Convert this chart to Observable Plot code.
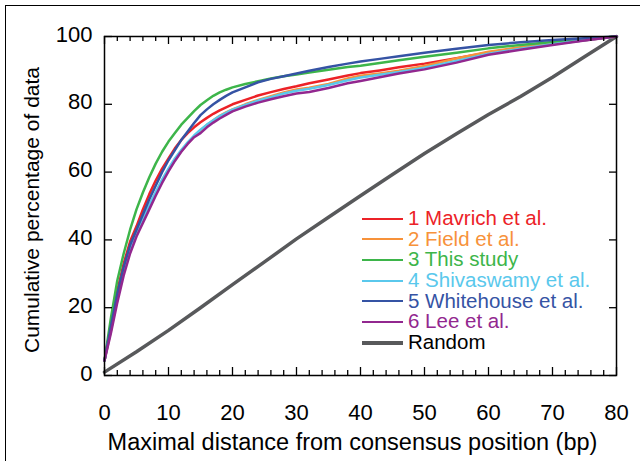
<!DOCTYPE html>
<html>
<head>
<meta charset="utf-8">
<script src="https://cdn.jsdelivr.net/npm/d3@7"></script>
<script src="https://cdn.jsdelivr.net/npm/@observablehq/plot@0.6"></script>
<style>
  html, body { margin: 0; padding: 0; background: #fff; }
  #wrap { position: relative; width: 640px; height: 461px; overflow: hidden; font-family: "Liberation Sans", Arial, sans-serif; }
  #border { position: absolute; left: 5px; top: 5px; width: 700px; height: 500px; border-left: 1px solid #000; border-top: 1px solid #000; pointer-events: none; }
  #legend { position: absolute; left: 362px; top: 208px; font-size: 20.5px; line-height: 20.7px; }
  #legend .row { white-space: nowrap; height: 20.7px; }
  #legend .sw { display: inline-block; width: 41px; vertical-align: middle; margin-right: 5px; position: relative; top: -1px; }
</style>
</head>
<body>
<div id="wrap"><div id="chart"></div><div id="border"></div><div id="legend"></div></div>
<script>
// Distance grid (bp)
const xs = [0,1,2,3,4,5,6,7,8,9,10,11,12,13,14,15,16,17,18,19,20,22,24,26,28,30,32,35,38,40,43,46,50,55,60,65,70,75,80];

const mavrich    = [4.4,15,25,33,39.5,44,49,53.5,57.5,61,64,67,69.5,71.5,73.2,74.7,76,77.2,78.2,79.1,80,81.3,82.6,83.6,84.5,85.3,86.2,87.3,88.5,89.2,90,90.9,92,93.6,95.3,96.6,97.8,98.9,100];
const field      = [4.4,13.2,22.7,30.7,37.2,42.2,46.2,50,53.7,57.5,60.7,63.7,66.2,68.5,70.5,72.3,73.9,75.3,76.6,77.6,78.5,80,81.3,82.4,83.5,84.4,84.9,86,87.6,88.4,89.1,89.9,91.3,93.5,95.5,96.8,98,99,100];
const thisStudy  = [4.4,17,28,36,43,49,54,58.5,62.5,66,69,71.5,74,76,78,79.8,81.2,82.5,83.5,84.3,85,86,86.8,87.6,88.3,88.8,89.4,90.2,91,91.4,92.2,93,94,95.2,96.5,97.5,98.4,99.2,100];
const shivaswamy = [4.4,13.5,23,31,37.5,42.5,46.5,50.3,54,57.8,61,64,66.5,68.8,70.8,72.5,74,75.3,76.5,77.5,78.4,79.8,81.1,82.1,83.2,84,84.6,85.7,87.1,87.9,88.7,89.5,90.8,92.8,94.9,96.4,97.7,98.9,100];
const whitehouse = [4.4,14.5,24,32,38.5,43,47.5,52,56,60,63.5,66.5,69.5,72,74.5,76.8,78.5,80,81.3,82.5,83.5,85,86.5,87.5,88.3,89.1,89.9,91,92,92.6,93.4,94.2,95.2,96.4,97.5,98.3,99,99.5,100];
const lee        = [4.4,12.5,21.5,29.5,36,41,45,49,53,56.8,60.2,63.3,66,68.3,70.3,71.5,73.2,74.6,75.8,76.9,77.9,79.3,80.5,81.5,82.4,83.2,83.6,84.8,86.2,86.9,88,89.1,90.3,92.3,94.6,96.1,97.5,98.8,100];

const randomX = [0,5,10,15,20,25,30,35,40,45,50,55,60,65,70,75,80];
const randomY = [1,7,13.3,20,26.8,33.5,40.3,46.7,53,59.3,65.5,71.3,77,82.3,88,94,100];

const seriesNames  = ["1 Mavrich et al.","2 Field et al.","3 This study","4 Shivaswamy et al.","5 Whitehouse et al.","6 Lee et al.","Random"];
const seriesColors = ["#ec2227","#f7923a","#3db54a","#5ac8ec","#3553a4","#92278f","#58595b"];

const xMajor = [0,10,20,30,40,50,60,70,80];
const xMinor = d3.range(0,81,2).filter(v => v % 10 !== 0);
const yMajor = [0,20,40,60,80,100];
const xLabel = "Maximal distance from consensus position (bp)";
const yLabel = "Cumulative percentage of data";

const studyValues = [mavrich, field, thisStudy, shivaswamy, whitehouse, lee];
const rows = [];
studyValues.forEach((vals, i) => vals.forEach((v, j) => rows.push({x: xs[j], y: v, s: seriesNames[i]})));
randomX.forEach((x, j) => rows.push({x, y: randomY[j], s: "Random"}));

const W = 640, H = 461, mL = 104, mR = 24, mT = 36, mB = 86;
const fw = W - mL - mR, fh = H - mT - mB;

const chart = Plot.plot({
  width: W, height: H,
  marginLeft: mL, marginRight: mR, marginTop: mT, marginBottom: mB,
  style: {fontFamily: '"Liberation Sans", Arial, sans-serif', background: "transparent", color: "#000"},
  x: {domain: [0, 80]},
  y: {domain: [0, 100]},
  color: {domain: seriesNames, range: seriesColors},
  marks: [
    Plot.line(rows.filter(d => d.s === "Random"), {x: "x", y: "y", stroke: "s", strokeWidth: 3.5}),
    ...seriesNames.slice(0, 6).map(name =>
      Plot.line(rows.filter(d => d.s === name), {x: "x", y: "y", stroke: "s", strokeWidth: 2.5})
    ),
    // inward ticks
    Plot.tickX(xMajor, {x: d => d, insetTop: fh - 8, stroke: "#000", strokeWidth: 1.3}),
    Plot.tickX(xMinor, {x: d => d, insetTop: fh - 5, stroke: "#000", strokeWidth: 1.3}),
    Plot.tickX(xMajor, {x: d => d, insetBottom: fh - 8, stroke: "#000", strokeWidth: 1.3}),
    Plot.tickX(xMinor, {x: d => d, insetBottom: fh - 5, stroke: "#000", strokeWidth: 1.3}),
    Plot.tickY(yMajor, {y: d => d, insetRight: fw - 8, stroke: "#000", strokeWidth: 1.3}),
    Plot.tickY(yMajor, {y: d => d, insetLeft: fw - 7, stroke: "#000", strokeWidth: 1.3}),
    Plot.frame({stroke: "#000", strokeWidth: 1.5}),
    Plot.axisX({ticks: xMajor, tickSize: 0, tickPadding: 29, label: null, fontSize: 22}),
    Plot.axisY({ticks: yMajor, tickSize: 0, tickPadding: 12, label: null, fontSize: 22, dy: -2}),
    Plot.text([xLabel], {frameAnchor: "bottom", textAnchor: "middle", lineAnchor: "middle", dy: 67, dx: -8, fontSize: 23.5, fill: "#000"}),
    Plot.text([yLabel], {frameAnchor: "left", textAnchor: "middle", lineAnchor: "middle", rotate: -90, dx: -72, dy: 4, fontSize: 21, fill: "#000"})
  ]
});
document.getElementById("chart").appendChild(chart);

const legend = document.getElementById("legend");
seriesNames.forEach((name, i) => {
  const row = document.createElement("div");
  row.className = "row";
  const sw = document.createElement("span");
  sw.className = "sw";
  sw.style.borderTop = `${name === "Random" ? 4 : 2.5}px solid ${seriesColors[i]}`;
  const t = document.createElement("span");
  t.textContent = name;
  t.style.color = name === "Random" ? "#000" : seriesColors[i];
  row.appendChild(sw); row.appendChild(t);
  legend.appendChild(row);
});
</script>
</body>
</html>
